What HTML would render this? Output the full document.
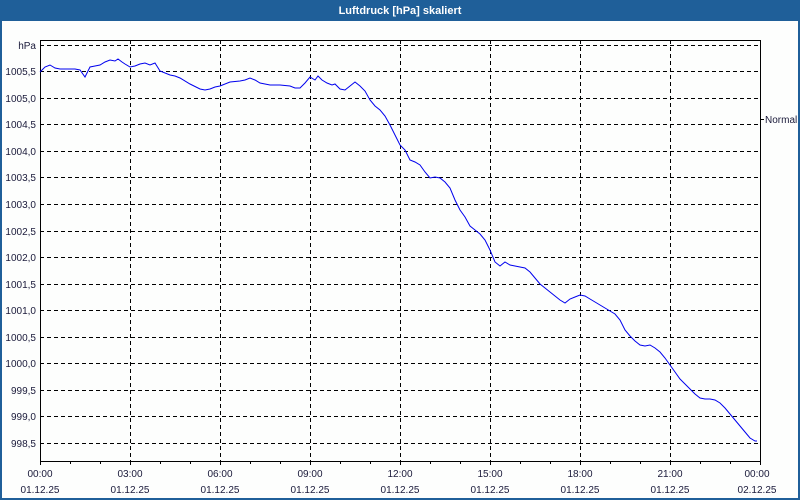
<!DOCTYPE html>
<html><head><meta charset="utf-8"><style>
html,body{margin:0;padding:0;background:#fff}
svg{display:block;font-family:"Liberation Sans","DejaVu Sans",sans-serif}
</style></head><body>
<svg width="800" height="500" viewBox="0 0 800 500" xmlns="http://www.w3.org/2000/svg">
<rect x="0" y="0" width="800" height="500" fill="#1f5f99"/>
<rect x="2" y="21" width="796" height="477" fill="#fdfefd"/>
<text x="400" y="14" fill="#fff" font-size="11" font-weight="bold" text-anchor="middle">Luftdruck [hPa] skaliert</text>
<g stroke="#000" stroke-width="1" stroke-dasharray="4,3" fill="none">
<line x1="40" y1="45.5" x2="760" y2="45.5"/>
<line x1="40" y1="71.5" x2="760" y2="71.5"/>
<line x1="40" y1="98.5" x2="760" y2="98.5"/>
<line x1="40" y1="124.5" x2="760" y2="124.5"/>
<line x1="40" y1="151.5" x2="760" y2="151.5"/>
<line x1="40" y1="177.5" x2="760" y2="177.5"/>
<line x1="40" y1="204.5" x2="760" y2="204.5"/>
<line x1="40" y1="231.5" x2="760" y2="231.5"/>
<line x1="40" y1="257.5" x2="760" y2="257.5"/>
<line x1="40" y1="284.5" x2="760" y2="284.5"/>
<line x1="40" y1="310.5" x2="760" y2="310.5"/>
<line x1="40" y1="337.5" x2="760" y2="337.5"/>
<line x1="40" y1="363.5" x2="760" y2="363.5"/>
<line x1="40" y1="390.5" x2="760" y2="390.5"/>
<line x1="40" y1="416.5" x2="760" y2="416.5"/>
<line x1="40" y1="443.5" x2="760" y2="443.5"/>
<line x1="130.5" y1="40" x2="130.5" y2="461"/>
<line x1="220.5" y1="40" x2="220.5" y2="461"/>
<line x1="310.5" y1="40" x2="310.5" y2="461"/>
<line x1="400.5" y1="40" x2="400.5" y2="461"/>
<line x1="490.5" y1="40" x2="490.5" y2="461"/>
<line x1="580.5" y1="40" x2="580.5" y2="461"/>
<line x1="670.5" y1="40" x2="670.5" y2="461"/>
</g>
<g stroke="#000" stroke-width="1" fill="none">
<path d="M40.5 40.5 H760.5 V461 M40.5 40 V461.5 H761"/>
<path d="M40.5 461 v4 M70.5 461 v3 M100.5 461 v3 M130.5 461 v4 M160.5 461 v3 M190.5 461 v3 M220.5 461 v4 M250.5 461 v3 M280.5 461 v3 M310.5 461 v4 M340.5 461 v3 M370.5 461 v3 M400.5 461 v4 M430.5 461 v3 M460.5 461 v3 M490.5 461 v4 M520.5 461 v3 M550.5 461 v3 M580.5 461 v4 M610.5 461 v3 M640.5 461 v3 M670.5 461 v4 M700.5 461 v3 M730.5 461 v3 M760.5 461 v4"/>
<path d="M761 119.5 h3"/>
</g>
<g font-size="10" fill="#1a1a3a" text-anchor="end">
<text x="36" y="49">hPa</text>
<text x="36" y="75">1005,5</text>
<text x="36" y="102">1005,0</text>
<text x="36" y="128">1004,5</text>
<text x="36" y="155">1004,0</text>
<text x="36" y="181">1003,5</text>
<text x="36" y="208">1003,0</text>
<text x="36" y="235">1002,5</text>
<text x="36" y="261">1002,0</text>
<text x="36" y="288">1001,5</text>
<text x="36" y="314">1001,0</text>
<text x="36" y="341">1000,5</text>
<text x="36" y="367">1000,0</text>
<text x="36" y="394">999,5</text>
<text x="36" y="420">999,0</text>
<text x="36" y="447">998,5</text>
</g>
<text x="765" y="123" font-size="10" fill="#1a1a3a">Normal</text>
<g font-size="10" fill="#1a1a3a" text-anchor="middle">
<text x="40" y="477">00:00</text><text x="40" y="493">01.12.25</text>
<text x="130" y="477">03:00</text><text x="130" y="493">01.12.25</text>
<text x="220" y="477">06:00</text><text x="220" y="493">01.12.25</text>
<text x="310" y="477">09:00</text><text x="310" y="493">01.12.25</text>
<text x="400" y="477">12:00</text><text x="400" y="493">01.12.25</text>
<text x="490" y="477">15:00</text><text x="490" y="493">01.12.25</text>
<text x="580" y="477">18:00</text><text x="580" y="493">01.12.25</text>
<text x="670" y="477">21:00</text><text x="670" y="493">01.12.25</text>
<text x="757" y="477">00:00</text><text x="757" y="493">02.12.25</text>
</g>
<polyline fill="none" stroke="#0000ee" stroke-width="1" points="40,72 45,67 50,65 55,68 60,69 75,69 80,70 85,77 90,67 95,66 100,65 105,62 110,60 115,61 118,59 122,62 125,64 130,67 135,66 140,64 145,63 150,65 155,63 160,71 170,75 175,76 180,78 190,84 200,89 205,90 210,89 215,87 220,86 230,82 240,81 245,80 250,78 255,80 260,83 265,84 270,85 280,85 290,86 295,88 300,88 305,83 310,77 315,80 318,76 322,80 327,83 332,85 335,84 340,89 345,90 350,86 355,82 360,86 365,91 370,100 375,106 380,110 385,116 390,125 395,135 400,145 405,150 410,160 415,162 420,165 425,172 430,178 435,177 440,178 445,182 450,188 455,200 460,210 465,217 470,226 475,230 480,234 485,240 490,250 495,262 500,266 505,262 510,265 515,266 520,267 525,268 530,272 535,278 540,284 545,288 550,292 555,296 560,300 565,303 570,299 575,297 580,295 585,296 590,299 595,302 600,305 605,308 610,311 615,314 620,320 625,330 630,336 635,341 640,345 645,346 650,345 655,348 660,352 665,358 670,365 675,372 680,379 685,384 690,389 695,394 700,398 705,399 710,399 715,400 720,403 725,408 730,414 735,420 740,426 745,432 750,438 755,441 757,441"/>
</svg>
</body></html>
